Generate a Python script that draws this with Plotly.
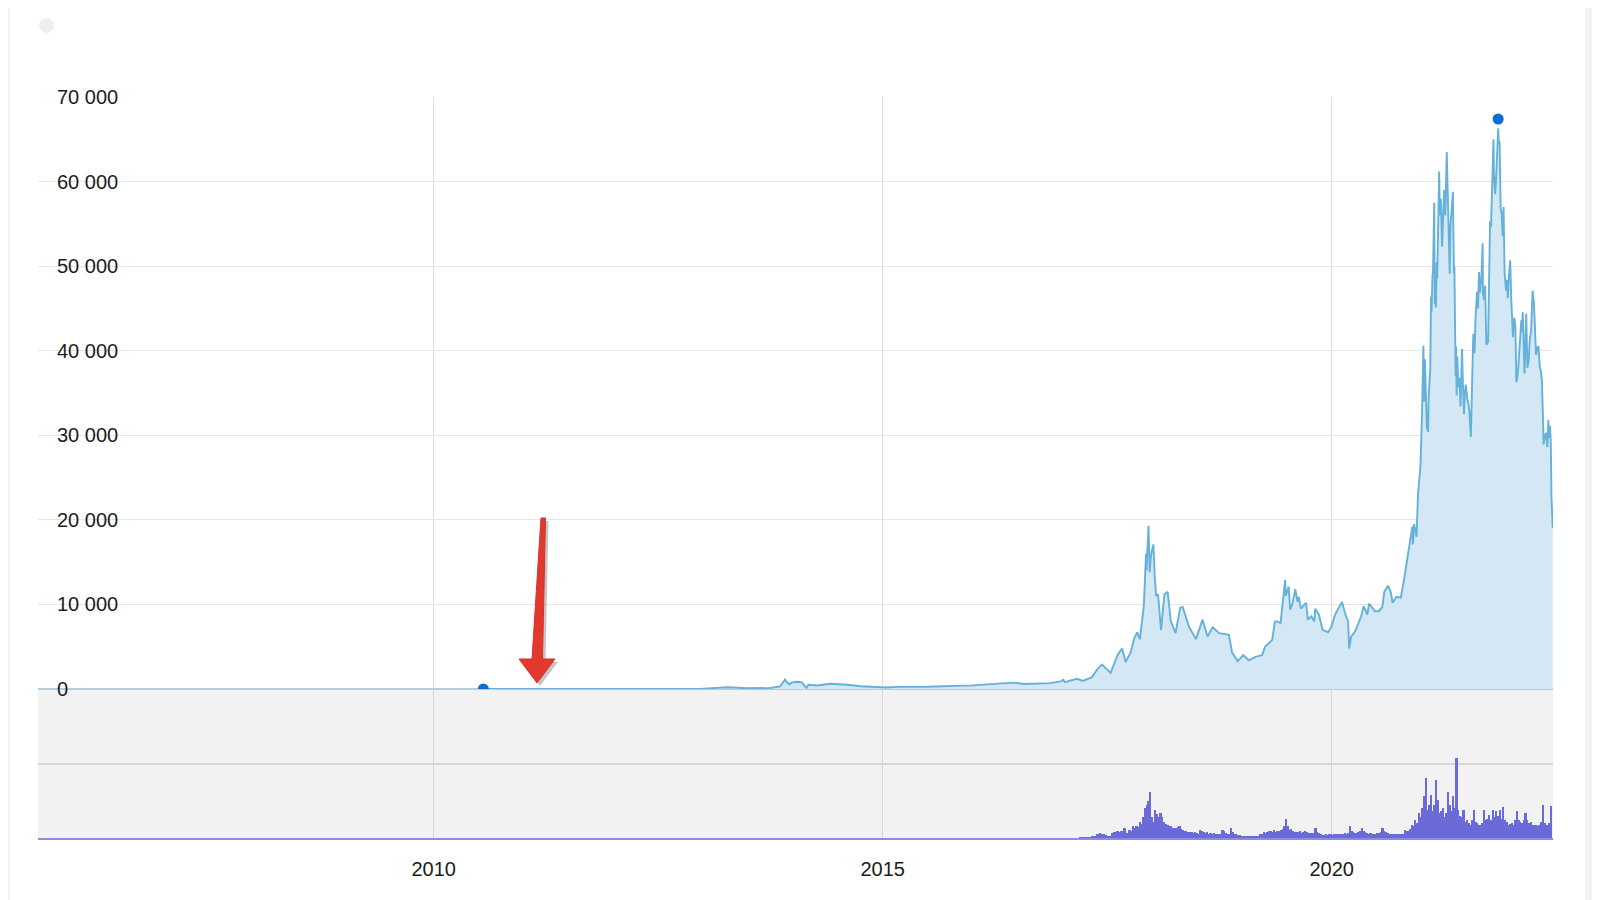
import pandas as pd
import plotly.graph_objects as go

# ---------------- data ----------------
price_dates = [
    "2010-07-18", "2010-11-01", "2011-02-01", "2011-06-08", "2011-11-01", "2012-06-01",
    "2012-12-19", "2013-04-09", "2013-07-03", "2013-10-01", "2013-11-10", "2013-11-30",
    "2013-12-07", "2013-12-18", "2013-12-27", "2014-01-16", "2014-02-05", "2014-02-25",
    "2014-03-05", "2014-04-10", "2014-06-01", "2014-08-10", "2014-10-05", "2015-01-14",
    "2015-03-01", "2015-07-01", "2015-11-04", "2016-01-01", "2016-06-17", "2016-08-01",
    "2016-11-11", "2016-12-25", "2017-01-05", "2017-01-11", "2017-03-01", "2017-03-25",
    "2017-05-01", "2017-05-25", "2017-06-11", "2017-06-25", "2017-07-16", "2017-08-13",
    "2017-09-01", "2017-09-15", "2017-10-05", "2017-10-20", "2017-11-01", "2017-11-12",
    "2017-11-28", "2017-12-07", "2017-12-09", "2017-12-17", "2017-12-22", "2017-12-27",
    "2018-01-06", "2018-01-11", "2018-01-17", "2018-01-25", "2018-02-06", "2018-02-20",
    "2018-03-05", "2018-03-18", "2018-04-06", "2018-04-25", "2018-05-05", "2018-05-30",
    "2018-06-28", "2018-07-25", "2018-08-14", "2018-09-04", "2018-09-30", "2018-11-09",
    "2018-11-22", "2018-12-15", "2019-01-06", "2019-01-29", "2019-02-25", "2019-03-24",
    "2019-04-05", "2019-05-04", "2019-05-15", "2019-05-24", "2019-06-07", "2019-06-26",
    "2019-06-28", "2019-07-10", "2019-07-16", "2019-07-24", "2019-08-06", "2019-08-15",
    "2019-08-20", "2019-08-29", "2019-09-19", "2019-09-26", "2019-10-10", "2019-10-22",
    "2019-10-26", "2019-11-10", "2019-11-25", "2019-12-17", "2019-12-30", "2020-01-15",
    "2020-02-12", "2020-02-26", "2020-03-08", "2020-03-12", "2020-03-20", "2020-04-05",
    "2020-04-30", "2020-05-10", "2020-05-25", "2020-06-01", "2020-06-25", "2020-07-10",
    "2020-07-25", "2020-08-02", "2020-08-17", "2020-08-28", "2020-09-05", "2020-09-20",
    "2020-10-08", "2020-10-21", "2020-11-05", "2020-11-17", "2020-11-24", "2020-11-26",
    "2020-12-01", "2020-12-11", "2020-12-17", "2020-12-27", "2021-01-02", "2021-01-08",
    "2021-01-09", "2021-01-11", "2021-01-14", "2021-01-16", "2021-01-22", "2021-01-27",
    "2021-01-29", "2021-02-05", "2021-02-08", "2021-02-10", "2021-02-14", "2021-02-16",
    "2021-02-21", "2021-02-23", "2021-02-26", "2021-02-28", "2021-03-03", "2021-03-05",
    "2021-03-09", "2021-03-13", "2021-03-16", "2021-03-20", "2021-03-25", "2021-03-28",
    "2021-04-02", "2021-04-07", "2021-04-10", "2021-04-13", "2021-04-15", "2021-04-18",
    "2021-04-22", "2021-04-25", "2021-04-28", "2021-05-03", "2021-05-08", "2021-05-12",
    "2021-05-14", "2021-05-19", "2021-05-21", "2021-05-23", "2021-05-26", "2021-05-30",
    "2021-06-04", "2021-06-08", "2021-06-11", "2021-06-14", "2021-06-18", "2021-06-22",
    "2021-06-25", "2021-06-29", "2021-07-06", "2021-07-10", "2021-07-14", "2021-07-20",
    "2021-07-26", "2021-07-30", "2021-08-04", "2021-08-08", "2021-08-14", "2021-08-18",
    "2021-08-22", "2021-08-26", "2021-09-01", "2021-09-06", "2021-09-07", "2021-09-12",
    "2021-09-16", "2021-09-21", "2021-09-28", "2021-10-01", "2021-10-06", "2021-10-10",
    "2021-10-15", "2021-10-20", "2021-10-22", "2021-10-27", "2021-11-01", "2021-11-03",
    "2021-11-08", "2021-11-10", "2021-11-14", "2021-11-18", "2021-11-22", "2021-11-26",
    "2021-11-30", "2021-12-04", "2021-12-10", "2021-12-14", "2021-12-17", "2021-12-22",
    "2021-12-27", "2021-12-31", "2022-01-07", "2022-01-12", "2022-01-17", "2022-01-21",
    "2022-01-24", "2022-01-29", "2022-02-04", "2022-02-10", "2022-02-13", "2022-02-16",
    "2022-02-23", "2022-03-02", "2022-03-07", "2022-03-12", "2022-03-16", "2022-03-22",
    "2022-03-28", "2022-04-02", "2022-04-06", "2022-04-11", "2022-04-17", "2022-04-21",
    "2022-04-26", "2022-04-30", "2022-05-05", "2022-05-09", "2022-05-12", "2022-05-16",
    "2022-05-22", "2022-05-27", "2022-05-31", "2022-06-04", "2022-06-07", "2022-06-10",
    "2022-06-13", "2022-06-18",
]
price_values = [
    0.09, 0.3, 1, 30, 3, 6,
    13, 200, 80, 125, 300, 1120,
    800, 550, 750, 850, 800, 130,
    500, 420, 620, 500, 330, 180,
    250, 260, 400, 430, 750, 600,
    700, 900, 1100, 800, 1200, 950,
    1400, 2400, 2900, 2500, 1900, 4000,
    4800, 3200, 4300, 6000, 6700, 5900,
    9800, 16000, 14000, 19300, 13800, 15800,
    17100, 13500, 11000, 11200, 7000, 11200,
    11500, 8000, 6600, 9600, 9700, 7400,
    5900, 8200, 6200, 7300, 6600, 6400,
    4300, 3300, 4000, 3400, 3800, 4000,
    5000, 5800, 8000, 8000, 7800, 12900,
    11000, 12100, 9400, 9900, 11800, 10300,
    10900, 9500, 10200, 8200, 8600, 8000,
    9500, 8800, 7000, 6700, 7300, 8800,
    10300, 8800, 8000, 4800, 6200, 6800,
    8600, 9800, 8800, 10100, 9200, 9200,
    9700, 11500, 12200, 11500, 10200, 10900,
    10800, 12900, 15500, 17800, 19200, 17100,
    19500, 18000, 23000, 26400, 32000, 40600,
    38000, 34000, 39000, 36000, 31000, 30400,
    34300, 38000, 46400, 44500, 49000, 49200,
    57500, 45500, 47000, 45100, 50500, 48500,
    54800, 61200, 56000, 58000, 52300, 55800,
    59000, 56000, 59800, 63500, 61000, 56200,
    51700, 49100, 54800, 57200, 58800, 49200,
    50000, 37000, 40500, 34700, 39300, 35700,
    36800, 33400, 37400, 40200, 35800, 32500,
    34700, 36000, 34200, 33800, 32800, 29800,
    37300, 42000, 39700, 44000, 47000, 45000,
    49300, 46900, 48800, 52700, 46800, 46000,
    47700, 40700, 41000, 48100, 55300, 54700,
    61600, 65000, 60700, 58500, 61300, 62900,
    66300, 64900, 64500, 56900, 56200, 53600,
    57000, 49300, 47100, 48400, 46200, 48900,
    50700, 46300, 41600, 43900, 43000, 36300,
    36700, 38100, 41600, 43600, 42200, 44600,
    37300, 44400, 38000, 38800, 41100, 42400,
    47100, 45800, 43200, 39500, 40400, 40500,
    38100, 37700, 36500, 30100, 28900, 29800,
    30300, 28600, 31800, 29700, 31100, 29100,
    22500, 19000,
]

extreme_dates = ["2010-07-22", "2021-11-08"]
extreme_values = [0, 67400]

volume_start = "2017-03-13"  # weekly volume bars
volume_values = [
    0.2, 0.2, 0.2, 0.3, 0.3, 0.4, 0.5, 0.7, 1.0, 1.5,
    3, 2.5, 3.2, 3, 2.8, 1.8, 1.5, 1.4, 1.6, 3.5,
    4, 3.8, 4.5, 4.2, 4.8, 4.5, 6.7, 3.5, 3.3, 5.5,
    5, 7.8, 6.5, 8.2, 7.5, 11, 9.5, 14, 20, 22,
    25, 31, 14, 11, 19, 16, 14, 17, 14, 11,
    9.5, 9, 8.2, 8, 7, 7, 6.7, 7.5, 7.8, 6,
    5.5, 5, 4.7, 4.2, 3.8, 3.8, 3.5, 3.8, 3.2, 3,
    5.5, 4.5, 3.8, 3.5, 3.8, 3, 3.3, 3, 3.3, 3,
    2.9, 2.9, 3, 5.5, 4.5, 3.3, 3, 3, 6.7, 4,
    3, 2.9, 2.2, 1.8, 1.5, 1.5, 1.2, 1.1, 1.1, 1.3,
    1.2, 1.5, 1.2, 1.5, 1.5, 2.5, 3, 3.8, 3.5, 4,
    4.5, 4.5, 3.8, 5.5, 4, 4.5, 5, 5.5, 6, 8,
    13, 8, 5.5, 6, 4.5, 4, 4.2, 3.8, 4.5, 3.5,
    3.8, 5, 4, 3.5, 3.2, 3.3, 3.2, 6.5, 4, 3.5,
    2.5, 2, 2.2, 2.5, 2.3, 2.8, 2.5, 2.2, 2.4, 2.8,
    2.5, 3, 2.7, 3, 3.2, 3, 3.5, 7.8, 5, 4,
    3.5, 3.2, 4, 4.5, 6.7, 5, 4, 3.5, 3, 3.3,
    3, 2.8, 3, 3.2, 3.5, 4, 6.7, 4.5, 4, 3.5,
    3, 3, 2.8, 2.6, 2.5, 2.6, 2.4, 2.8, 3, 5.5,
    4.5, 4.5, 6, 9, 8, 12, 10, 16.7, 14, 20,
    28, 40, 19, 22, 29, 18, 22, 39, 25.5, 16.7,
    18, 20, 14, 17, 31, 22, 18, 28, 20, 54,
    19, 15, 14, 19, 11, 12, 10, 9, 12, 19,
    11, 10, 8.5, 9, 10, 19, 12, 13, 15.5, 12,
    19, 14, 18, 15, 19, 13, 21, 12, 11, 9,
    9.5, 10, 9, 12, 18, 12, 11, 10, 12, 16.7,
    12, 10, 11, 9, 8.5, 9, 8, 9, 11, 22,
    10, 9, 8.5, 10, 21.5,
]

y_ticks = [0, 10000, 20000, 30000, 40000, 50000, 60000, 70000]
y_tick_labels = ["0", "10 000", "20 000", "30 000", "40 000", "50 000", "60 000", "70 000"]
x_tick_dates = ["2010-01-01", "2015-01-01", "2020-01-01"]
x_tick_labels = ["2010", "2015", "2020"]
x_range = ["2005-08-06", "2022-06-19"]

# ---------------- layout geometry ----------------
# the page body adds an 8px margin, so figure coords = page coords - 8
OFF = 8
W, H = 1592, 892
ML, MR, MT, MB = 30, 47, 89, 62
PW, PH = W - ML - MR, H - MT - MB
VOL_FRAC = 149 / PH


def px(x):
    """page x (pixels) -> paper x"""
    return (x - OFF - ML) / PW


def py(y):
    """page y (pixels) -> paper y"""
    return (H - MB - (y - OFF)) / PH


volume_dates = pd.date_range(volume_start, periods=len(volume_values), freq="7D")

fig = go.Figure()

fig.add_trace(go.Bar(
    x=volume_dates, y=volume_values, xaxis="x2", yaxis="y2",
    marker=dict(color="#6a6ad9", line=dict(width=0)),
    width=7 * 24 * 3600 * 1000, hoverinfo="skip",
))

fig.add_trace(go.Scatter(
    x=price_dates, y=price_values, mode="lines",
    line=dict(color="#64b1da", width=1.9),
    fill="tozeroy", fillcolor="#d3e8f4", hoverinfo="skip",
))

fig.add_trace(go.Scatter(
    x=extreme_dates, y=extreme_values, mode="markers",
    marker=dict(color="#0b6bd9", size=11), hoverinfo="skip",
))

font = dict(family="Liberation Sans, Arial, sans-serif", size=20, color="#1c1c1c")

fig.update_layout(
    width=W, height=H,
    margin=dict(l=ML, r=MR, t=MT, b=MB),
    paper_bgcolor="#f3f3f3", plot_bgcolor="#ffffff",
    showlegend=False, bargap=0, hovermode=False,
    font=font,
    xaxis=dict(
        type="date", range=x_range, anchor="y", domain=[0, 1],
        tickvals=x_tick_dates, ticktext=x_tick_labels, showticklabels=False,
        showgrid=True, gridcolor="#dcdcdc", gridwidth=1, zeroline=False, showline=False,
    ),
    xaxis2=dict(
        type="date", range=x_range, anchor="y2", domain=[0, 1], matches="x",
        tickvals=x_tick_dates, ticktext=x_tick_labels, showticklabels=True,
        ticks="", ticklabelstandoff=12,
        showgrid=True, gridcolor="#d6d6d6", gridwidth=1, zeroline=False,
        showline=True, linecolor="#8c8ce4", linewidth=2,
    ),
    yaxis=dict(
        domain=[VOL_FRAC, 1], range=[0, 70000], anchor="x",
        tickvals=y_ticks, showticklabels=False, ticks="",
        showgrid=True, gridcolor="#e6e6e6", gridwidth=1,
        zeroline=True, zerolinecolor="#b3cdd9", zerolinewidth=2,
    ),
    yaxis2=dict(
        domain=[0, VOL_FRAC], range=[0, 100], anchor="x2",
        tickvals=[50], showticklabels=False, ticks="",
        showgrid=True, gridcolor="#d6d6d6", gridwidth=2, zeroline=False,
    ),
)

# y tick labels drawn inside the plot, centred on their gridlines
for v, t in zip(y_ticks, y_tick_labels):
    fig.add_annotation(
        x=px(55), xref="paper", y=v, yref="y", text=t, showarrow=False,
        xanchor="left", yanchor="middle", font=font,
    )

shapes = [
    # white page panel (grey strips left and right)
    dict(type="rect", xref="paper", yref="paper", x0=px(10), x1=px(1585), y0=py(H + OFF), y1=py(OFF),
         fillcolor="#ffffff", line=dict(width=0), layer="below"),
    # grey volume panel background
    dict(type="rect", xref="paper", yref="paper", x0=0, x1=1, y0=0, y1=VOL_FRAC,
         fillcolor="#f2f2f2", line=dict(width=0), layer="below"),
    # small grey dot top left
    dict(type="circle", xref="paper", yref="paper", x0=px(39), x1=px(54), y0=py(33), y1=py(18),
         fillcolor="#eef0ef", line=dict(width=0), layer="above"),
]

arrow_pts = [(541, 518), (545.5, 518), (542.5, 659), (555, 659), (537, 683),
             (519, 659), (532, 659)]


def arrow_path(dx, dy):
    pts = [f"{px(x + dx):.5f},{py(y + dy):.5f}" for x, y in arrow_pts]
    return "M" + " L".join(pts) + " Z"


shapes.append(dict(type="path", xref="paper", yref="paper", path=arrow_path(3, 3),
                   fillcolor="rgba(90,90,90,0.35)", line=dict(width=0), layer="above"))
shapes.append(dict(type="path", xref="paper", yref="paper", path=arrow_path(0, 0),
                   fillcolor="#e2392e", line=dict(color="#d7322a", width=1), layer="above"))

fig.update_layout(shapes=shapes)

fig.write_html("out.html")
